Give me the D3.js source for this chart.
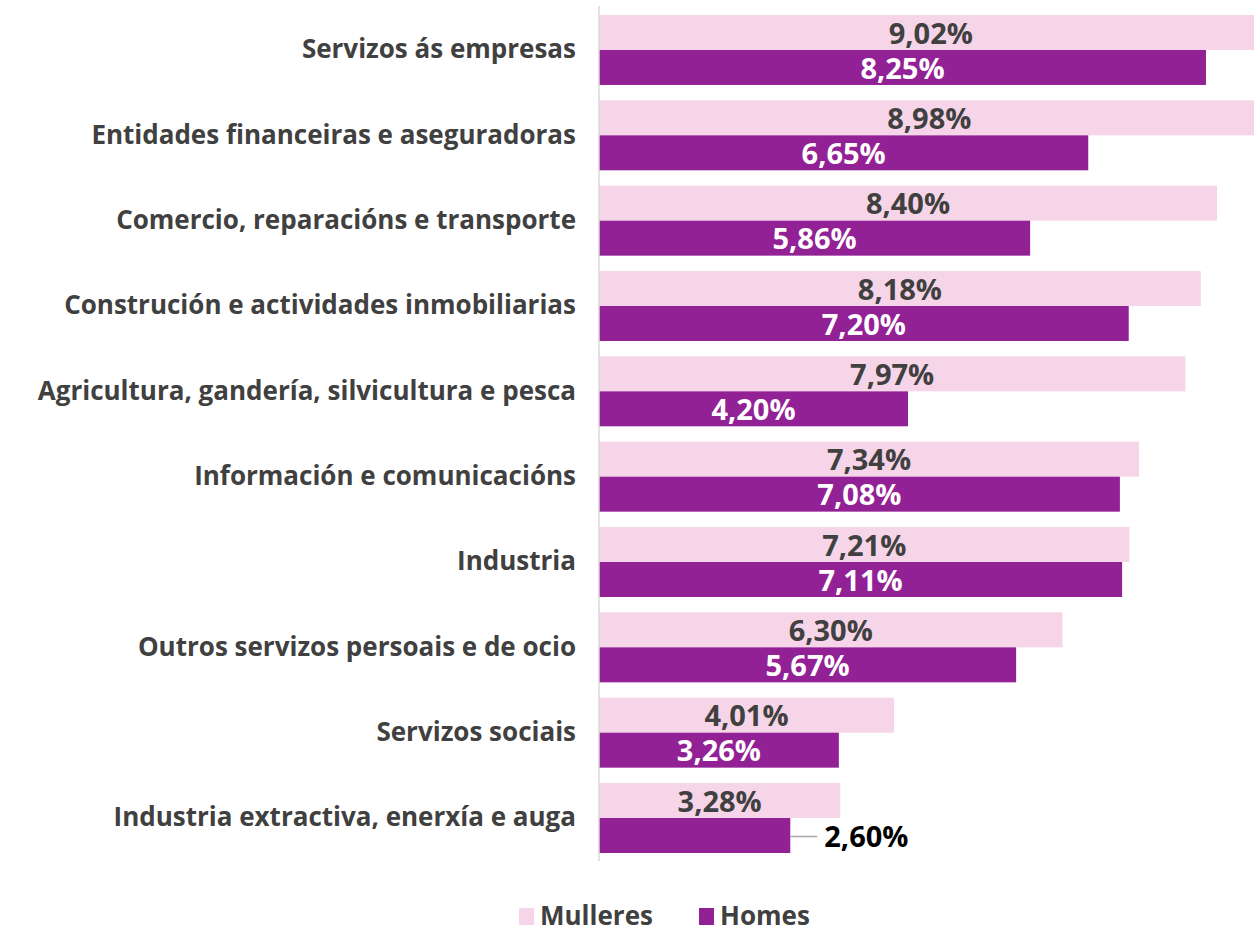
<!DOCTYPE html>
<html>
<head>
<meta charset="utf-8">
<script src="https://cdn.jsdelivr.net/npm/d3@7"></script>
<style>
  body { margin: 0; background: #fff; }
  svg { display: block; }
  text { font-family: "Open Sans", "Noto Sans", sans-serif; font-weight: 700; }
</style>
</head>
<body>
<svg width="1254" height="929"></svg>
<script>
// data
const categories = [
  "Servizos ás empresas",
  "Entidades financeiras e aseguradoras",
  "Comercio, reparacións e transporte",
  "Construción e actividades inmobiliarias",
  "Agricultura, gandería, silvicultura e pesca",
  "Información e comunicacións",
  "Industria",
  "Outros servizos persoais e de ocio",
  "Servizos sociais",
  "Industria extractiva, enerxía e auga"
];
const mulleres = [9.02, 8.98, 8.40, 8.18, 7.97, 7.34, 7.21, 6.30, 4.01, 3.28];
const homes = [8.25, 6.65, 5.86, 7.20, 4.20, 7.08, 7.11, 5.67, 3.26, 2.60];
const seriesNames = ["Mulleres", "Homes"];
const colors = { Mulleres: "#f7d5e8", Homes: "#932196" };

const svg = d3.select("svg");
const left = 599;

const x = d3.scaleLinear().domain([0, 8.4]).range([left, 1217]);
const y = d3.scaleBand().domain(categories).range([15, 853]).paddingInner(0.18);
const ySub = d3.scaleBand().domain(seriesNames).range([0, y.bandwidth()]);

const fmt = v => v.toFixed(2).replace(".", ",") + "%";

// category labels
svg.append("g")
  .attr("transform", `translate(${left},0)`)
  .call(d3.axisLeft(y).tickSize(0).tickPadding(23))
  .call(g => g.select(".domain").remove())
  .selectAll("text")
  .attr("font-size", 26)
  .attr("fill", "#404040")
  .style("font-family", null);

const rows = categories.map((c, i) => ({ cat: c, Mulleres: mulleres[i], Homes: homes[i] }));

const groups = svg.append("g").selectAll("g")
  .data(rows).join("g")
  .attr("transform", d => `translate(0,${y(d.cat)})`);

groups.selectAll("rect")
  .data(d => seriesNames.map(s => ({ s, v: d[s] })))
  .join("rect")
  .attr("x", x(0))
  .attr("y", d => ySub(d.s))
  .attr("width", d => x(d.v) - x(0))
  .attr("height", ySub.bandwidth())
  .attr("fill", d => colors[d.s]);

// value labels
groups.each(function(d, i) {
  const g = d3.select(this);
  seriesNames.forEach(s => {
    const v = d[s];
    const outside = s === "Homes" && i === categories.length - 1;
    const yc = ySub(s) + ySub.bandwidth() / 2 + 1;
    if (outside) {
      g.append("line")
        .attr("x1", x(v)).attr("x2", x(v) + 27)
        .attr("y1", yc).attr("y2", yc)
        .attr("stroke", "#a6a6a6").attr("stroke-width", 1.5);
      g.append("text")
        .attr("x", x(v) + 34).attr("y", yc)
        .attr("dy", "0.35em")
        .attr("font-size", 29)
        .attr("fill", "#000")
        .text(fmt(v));
    } else {
      g.append("text")
        .attr("x", (x(0) + x(v)) / 2).attr("y", yc)
        .attr("dy", "0.35em")
        .attr("text-anchor", "middle")
        .attr("font-size", 29)
        .attr("fill", s === "Homes" ? "#fff" : "#404040")
        .text(fmt(v));
    }
  });
});

// axis line
svg.append("line")
  .attr("x1", left).attr("x2", left)
  .attr("y1", 6).attr("y2", 861)
  .attr("stroke", "#d9d9d9").attr("stroke-width", 1.5);

// legend
const legendItems = [
  { s: "Mulleres", x: 519 },
  { s: "Homes", x: 699 }
];
const legend = svg.append("g").selectAll("g")
  .data(legendItems).join("g")
  .attr("transform", d => `translate(${d.x},908)`);
legend.append("rect")
  .attr("width", 15).attr("height", 17)
  .attr("fill", d => colors[d.s]);
legend.append("text")
  .attr("x", 21).attr("y", 8)
  .attr("dy", "0.35em")
  .attr("font-size", 26)
  .attr("fill", "#404040")
  .text(d => d.s);
</script>
</body>
</html>
